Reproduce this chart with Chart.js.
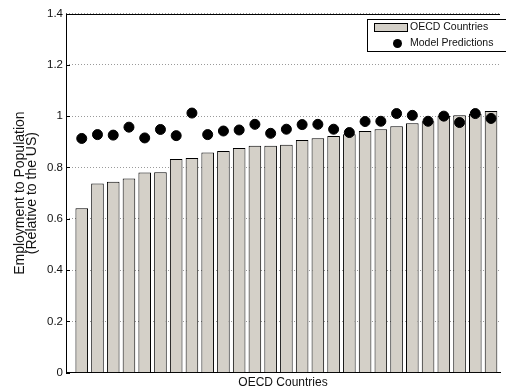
<!DOCTYPE html>
<html>
<head>
<meta charset="utf-8">
<script src="https://cdn.jsdelivr.net/npm/chart.js@4/dist/chart.umd.min.js"></script>
<style>
html,body{margin:0;padding:0;background:#fff;overflow:hidden;}
#wrap{width:506px;height:390px;position:relative;}
</style>
</head>
<body>
<div id="wrap"><canvas id="c" width="506" height="390"></canvas></div>
<script>
// Category positions (countries are unlabeled in the reference)
const categories = [1,2,3,4,5,6,7,8,9,10,11,12,13,14,15,16,17,18,19,20,21,22,23,24,25,26,27];
// Observed employment to population relative to US
const oecdValues = [0.641,0.737,0.744,0.757,0.780,0.781,0.833,0.837,0.858,0.864,0.876,0.885,0.885,0.888,0.907,0.914,0.923,0.929,0.942,0.949,0.961,0.972,0.980,1.001,1.003,1.009,1.020];
// Model predictions
const modelValues = [0.913,0.928,0.926,0.957,0.915,0.948,0.924,1.012,0.928,0.942,0.946,0.968,0.933,0.949,0.967,0.968,0.949,0.936,0.979,0.980,1.010,1.003,0.980,1.000,0.975,1.010,0.991];
const yTickValues = [0,0.2,0.4,0.6,0.8,1,1.2,1.4];
const yTickLabels = ['0','0.2','0.4','0.6','0.8','1','1.2','1.4'];
const seriesNames = ['OECD Countries','Model Predictions'];
const axisTitles = {x:'OECD Countries', y:['Employment to Population','(Relative to the US)']};

const FONT = "'Liberation Sans', Arial, sans-serif";

const framePlugin = {
  id:'frame',
  afterDatasetsDraw(chart){
    const {ctx, chartArea:a, scales} = chart;
    ctx.save();
    ctx.strokeStyle = '#000';
    ctx.lineWidth = 1;
    ctx.setLineDash([]);
    // top border
    ctx.beginPath();
    ctx.moveTo(a.left, Math.round(a.top)+0.5);
    ctx.lineTo(a.right, Math.round(a.top)+0.5);
    ctx.stroke();
    // left axis line
    const lx = Math.round(a.left)+0.5;
    ctx.beginPath();
    ctx.moveTo(lx, a.top);
    ctx.lineTo(lx, a.bottom);
    ctx.stroke();
    // inward ticks on left axis
    const ys = scales.y;
    yTickValues.forEach(v=>{
      const py = Math.round(ys.getPixelForValue(v))+0.5;
      ctx.beginPath();
      ctx.moveTo(a.left, py);
      ctx.lineTo(a.left+4, py);
      ctx.stroke();
    });
    ctx.restore();
  },
  afterDraw(chart){
    // Matlab-style legend box
    const ctx = chart.ctx;
    const bx = 367.5, by = 19.5, bw = 140, bh = 32;
    ctx.save();
    ctx.setLineDash([]);
    ctx.fillStyle = '#fff';
    ctx.fillRect(bx, by, bw, bh);
    ctx.strokeStyle = '#000';
    ctx.lineWidth = 1;
    ctx.strokeRect(bx, by, bw, bh);
    const barDs = chart.data.datasets[1];
    const dotDs = chart.data.datasets[0];
    ctx.fillStyle = barDs.backgroundColor;
    ctx.fillRect(374.5, 23.5, 33, 8);
    ctx.strokeStyle = '#000';
    ctx.strokeRect(374.5, 23.5, 33, 8);
    ctx.fillStyle = dotDs.backgroundColor;
    ctx.beginPath();
    ctx.arc(397.5, 43.5, 4.5, 0, Math.PI*2);
    ctx.fill();
    ctx.fillStyle = '#111';
    ctx.font = "10.5px " + FONT;
    ctx.textBaseline = 'middle';
    ctx.textAlign = 'left';
    ctx.fillText(barDs.label, 410, 27.5);
    ctx.fillText(dotDs.label, 410, 43.5);
    ctx.restore();
  }
};

new Chart(document.getElementById('c'), {
  type:'bar',
  data:{
    datasets:[
      {
        type:'scatter',
        label:seriesNames[1],
        data:categories.map((c,i)=>({x:c,y:modelValues[i]})),
        backgroundColor:'#000',
        borderColor:'#000',
        pointRadius:5,
        pointHoverRadius:5,
        order:1
      },
      {
        type:'bar',
        label:seriesNames[0],
        data:categories.map((c,i)=>({x:c,y:oecdValues[i]})),
        backgroundColor:'#d4d0c8',
        borderColor:'#000',
        borderWidth:1,
        barPercentage:0.8,
        categoryPercentage:1,
        order:2
      }
    ]
  },
  options:{
    responsive:false,
    animation:false,
    layout:{padding:{top:13.5,right:0,bottom:0,left:0}},
    plugins:{legend:{display:false},tooltip:{enabled:false}},
    scales:{
      x:{
        type:'linear',
        min:0,
        max:27.57,
        offset:false,
        grid:{display:false},
        border:{display:true,color:'#000',width:1},
        ticks:{display:false},
        title:{display:true,text:axisTitles.x,color:'#111',font:{family:FONT,size:12},padding:{top:0,bottom:0}},
        afterFit(s){ s.height = 17.3; }
      },
      y:{
        min:0,
        max:1.4,
        afterBuildTicks(s){ s.ticks = yTickValues.map(v=>({value:v})); },
        grid:{color:'#9a9a9a',drawTicks:false,lineWidth:1},
        border:{display:false,dash:[1,2]},
        ticks:{color:'#111',font:{family:FONT,size:11.5},padding:3,
          callback:(v,i)=>yTickLabels[i]},
        title:{display:true,text:axisTitles.y,color:'#111',font:{family:FONT,size:14,lineHeight:0.85},padding:{top:14,bottom:4}},
        afterFit(s){ s.width = 66; }
      }
    }
  },
  plugins:[framePlugin]
});
</script>
</body>
</html>
